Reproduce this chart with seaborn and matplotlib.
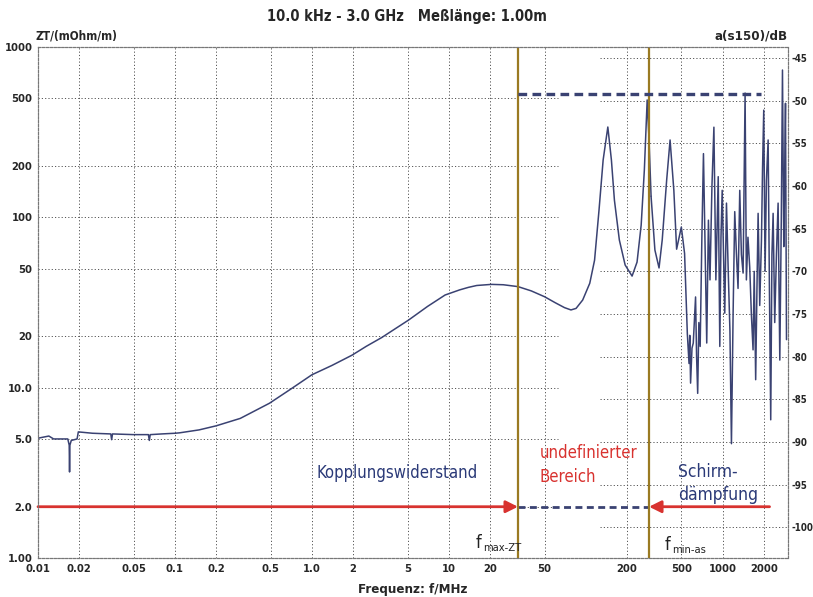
import matplotlib.pyplot as plt
import matplotlib.ticker as mticker
import seaborn as sns
import pandas as pd

sns.set_theme(style="white")
plt.rcParams['font.family'] = ['DejaVu Sans']
plt.rcParams['font.stretch'] = 'condensed'

# Kopplungswiderstand ZT (mOhm/m), bis f_min-as
freq_zt = [0.01, 0.012, 0.013, 0.0165, 0.0169, 0.017, 0.0171, 0.0175, 0.0193, 0.0197, 0.025,
           0.034, 0.0345, 0.035, 0.05, 0.064, 0.065, 0.066, 0.08, 0.1, 0.108, 0.15, 0.2, 0.3,
           0.49, 0.7, 1.0, 1.4, 1.96, 2.5, 3.24, 4.0, 5.07, 7.0, 9.4, 12, 13.9, 16, 20.5, 25,
           32, 40, 50, 60, 70, 78, 85, 95, 107, 116, 125, 134,
           145, 154, 162, 176, 194, 218, 237, 254, 268, 281, 290, 300]
zt_vals = [5.05, 5.2, 5.0, 5.0, 4.6, 3.2, 4.6, 4.9, 5.0, 5.5, 5.4,
           5.35, 4.95, 5.35, 5.3, 5.3, 4.9, 5.3, 5.35, 5.4, 5.43, 5.65, 5.97, 6.6,
           8.1, 9.8, 11.9, 13.5, 15.5, 17.5, 19.7, 22, 24.9, 30, 35, 37.5, 38.8, 39.8, 40.4, 40.2,
           39.2, 37, 34.2, 31.5, 29.5, 28.6, 29.2, 32.7, 41, 56, 110, 217,
           339, 217, 126, 73.6, 52.5, 45.2, 54.6, 90, 190, 489, 284, 133]

# Schirmdaempfung a(s150) in dB, ab f_min-as
freq_as = [300, 320, 343, 362, 390, 413, 440, 461, 499, 527, 552, 568, 575, 583, 597, 610, 634,
           645, 657, 670, 685, 705, 724, 744, 765, 787, 808, 835, 863, 892, 910, 928, 953, 972,
           992, 1036, 1066, 1096, 1130, 1159, 1192, 1225, 1260, 1295, 1333, 1370, 1410, 1458,
           1490, 1530, 1576, 1620, 1667, 1700, 1742, 1780, 1815, 1865, 1920, 1955, 1995, 2040,
           2088, 2148, 2195, 2244, 2290, 2336, 2400, 2471, 2540, 2614, 2680, 2734, 2795, 2840,
           2876, 2925]
as_db = [-61.2, -67.5, -69.6, -66.3, -59.3, -54.6, -60.5, -67.4, -64.8, -67.9, -77.3, -80.8,
         -77.5, -83.1, -79.0, -78.4, -73.0, -80.0, -84.3, -76.0, -78.8, -66.0, -56.2, -67.1,
         -78.4, -64.0, -71.0, -60.0, -53.1, -71.0, -65.0, -58.9, -78.8, -66.0, -60.5, -74.9,
         -62.0, -69.5, -77.0, -90.2, -74.9, -63.0, -67.9, -72.0, -60.5, -68.0, -70.2, -49.1,
         -71.0, -66.0, -69.5, -75.0, -79.2, -70.0, -82.7, -72.0, -63.2, -74.0, -66.3, -58.0,
         -51.1, -70.0, -59.3, -54.6, -72.0, -87.4, -68.0, -63.2, -76.0, -67.9, -62.0, -80.4,
         -64.0, -46.4, -67.1, -58.0, -50.3, -78.0]

x_ticks = [0.01, 0.02, 0.05, 0.1, 0.2, 0.5, 1, 2, 5, 10, 20, 50, 200, 500, 1000, 2000]
x_labels = ['0.01', '0.02', '0.05', '0.1', '0.2', '0.5', '1.0', '2', '5', '10', '20', '50',
            '200', '500', '1000', '2000']
zt_ticks = [1, 2, 5, 10, 20, 50, 100, 200, 500, 1000]
zt_labels = ['1.00', '2.0', '5.0', '10.0', '20', '50', '100', '200', '500', '1000']
db_ticks = [-45, -50, -55, -60, -65, -70, -75, -80, -85, -90, -95, -100]

F_MAX_ZT = 32
F_MIN_AS = 290
AS_MAX = -49.2
AS_MAX_END = 1900
ARROW_LEVEL = 2.0
ARROW_RIGHT_START = 2200

navy = '#3a4272'
text_navy = '#2b3a78'
red = '#d8322f'
gold = '#9a7a22'
gridc = '#555555'
grid_ls = (0, (1.2, 2.2))

fig = plt.figure(figsize=(8.13, 5.97), dpi=100)
ax = fig.add_axes([38 / 813, 39 / 597, 750 / 813, 511 / 597])
ax.set_xscale('log')
ax.set_yscale('log')
ax.set_xlim(0.01, 3000)
ax.set_ylim(1, 1000)
ax2 = ax.twinx()
ax2.set_ylim(-103.6, -43.7)

# gitter
for f in x_ticks[1:]:
    ax.axvline(f, color=gridc, lw=0.7, ls=grid_ls, zorder=0)
ax.hlines(zt_ticks[1:-1], 0.01, 63, colors=gridc, lw=0.7, linestyles=[grid_ls], zorder=0)
ax2.hlines(db_ticks, 128, 3000, colors=gridc, lw=0.7, linestyles=[grid_ls], zorder=0)

df_zt = pd.DataFrame({'f': freq_zt, 'zt': zt_vals})
df_as = pd.DataFrame({'f': freq_as, 'a': as_db})
sns.lineplot(data=df_zt, x='f', y='zt', ax=ax, color=navy, lw=1.1, sort=False, estimator=None)
sns.lineplot(data=df_as, x='f', y='a', ax=ax2, color=navy, lw=1.1, sort=False, estimator=None)

ax.axvline(F_MAX_ZT, color=gold, lw=1.6, zorder=3)
ax.axvline(F_MIN_AS, color=gold, lw=1.6, zorder=3)
ax2.hlines(AS_MAX, F_MAX_ZT, AS_MAX_END, colors=navy, lw=2.4, linestyles=[(0, (2.6, 1.6))])

# pfeile
ax.hlines(ARROW_LEVEL, F_MAX_ZT, F_MIN_AS, colors=navy, lw=2, linestyles=[(0, (2.5, 1.6))])
arrow = dict(arrowstyle='-|>', color=red, lw=2, mutation_scale=18, shrinkA=0, shrinkB=0)
ax.annotate('', xy=(F_MAX_ZT, ARROW_LEVEL), xytext=(0.01, ARROW_LEVEL), arrowprops=arrow)
ax.annotate('', xy=(F_MIN_AS, ARROW_LEVEL), xytext=(ARROW_RIGHT_START, ARROW_LEVEL), arrowprops=arrow)

ax.text(0.479, 0.166, 'Kopplungswiderstand', transform=ax.transAxes, ha='center', va='center',
        fontsize=12, color=text_navy)
ax.text(0.669, 0.182, 'undefinierter\nBereich', transform=ax.transAxes, ha='left', va='center',
        fontsize=12, color=red, linespacing=1.45)
ax.text(0.853, 0.145, 'Schirm-\ndämpfung', transform=ax.transAxes, ha='left', va='center',
        fontsize=12.5, color=text_navy, linespacing=1.35)
ax.text(0.584, 0.029, 'f', transform=ax.transAxes, ha='left', va='center', fontsize=13, color='#222222')
ax.text(0.593, 0.020, 'max-ZT', transform=ax.transAxes, ha='left', va='center', fontsize=8, color='#222222')
ax.text(0.836, 0.025, 'f', transform=ax.transAxes, ha='left', va='center', fontsize=13, color='#222222')
ax.text(0.845, 0.016, 'min-as', transform=ax.transAxes, ha='left', va='center', fontsize=8, color='#222222')

# achsen
ax.set_xticks(x_ticks)
ax.set_xticklabels(x_labels)
ax.set_yticks(zt_ticks)
ax.set_yticklabels(zt_labels)
ax.xaxis.set_minor_locator(mticker.NullLocator())
ax.yaxis.set_minor_locator(mticker.NullLocator())
ax2.set_yticks(db_ticks)
ax2.set_yticklabels([str(v) for v in db_ticks])
ax.tick_params(axis='both', length=0, pad=4, labelsize=8)
ax2.tick_params(axis='y', length=0, pad=2.5, labelsize=7, color=gridc)
for lab in ax.get_xticklabels() + ax.get_yticklabels() + ax2.get_yticklabels():
    lab.set_fontweight('bold')
ax.set_xlabel('')
ax.set_ylabel('')
ax2.set_ylabel('')
for a in (ax, ax2):
    for sp in a.spines.values():
        sp.set_color('#777777')
        sp.set_linewidth(0.8)
        sp.set_linestyle((0, (2, 1.5)))

fig.text(0.5, 1 - 17 / 597, '10.0 kHz - 3.0 GHz   Meßlänge: 1.00m', ha='center', va='center',
         fontsize=10.5, fontweight='bold')
fig.text(36 / 813, 1 - 36 / 597, 'ZT/(mOhm/m)', ha='left', va='center', fontsize=8.5, fontweight='bold')
fig.text(788 / 813, 1 - 36 / 597, 'a(s150)/dB', ha='right', va='center', fontsize=9.5, fontweight='bold')
fig.text(413 / 813, 8 / 597, 'Frequenz: f/MHz', ha='center', va='center', fontsize=9.5, fontweight='bold')

fig.savefig('out.png', dpi=100)
